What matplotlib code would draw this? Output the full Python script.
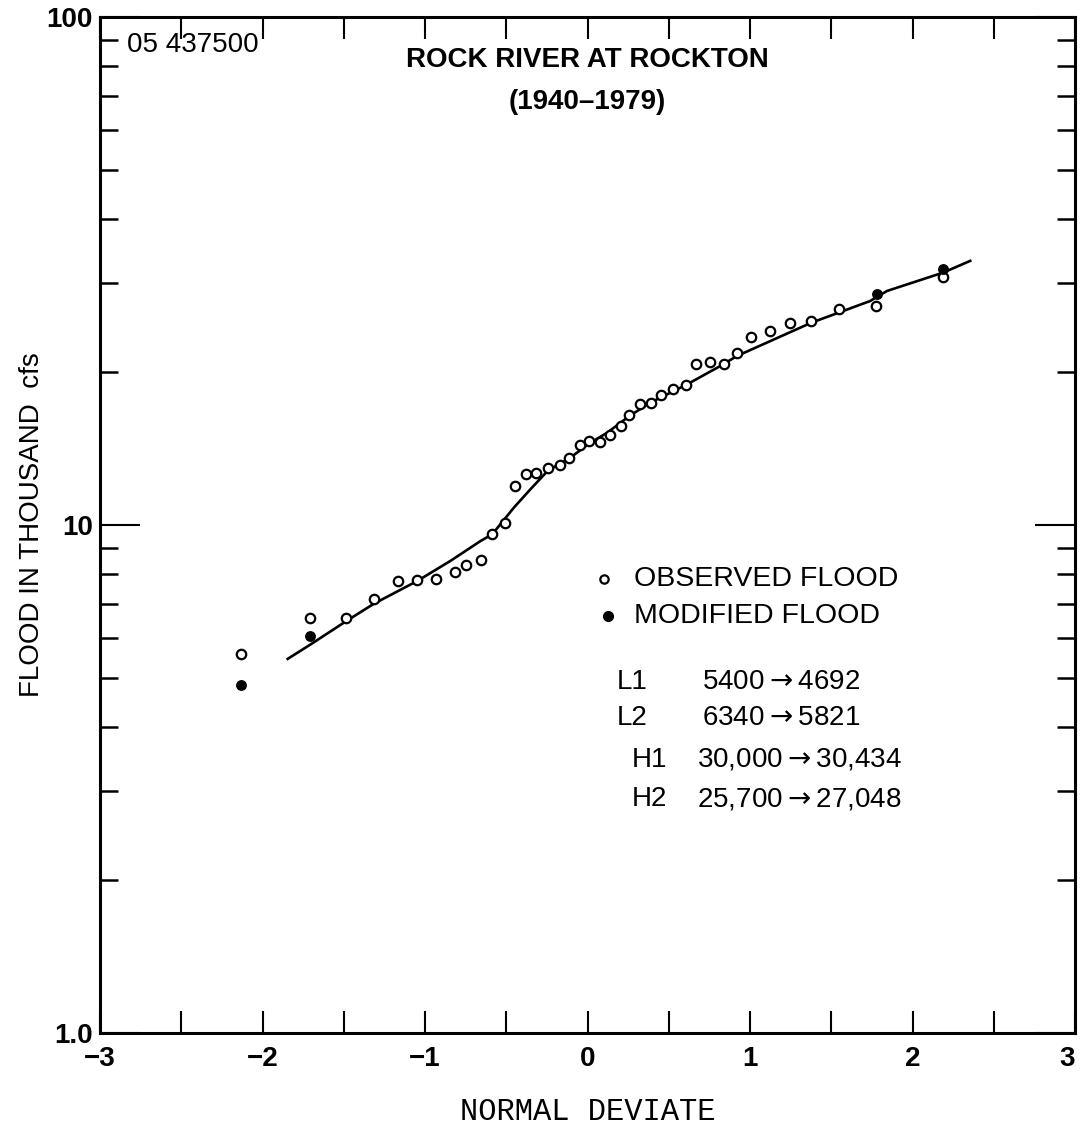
import numpy as np
import matplotlib.pyplot as plt
from matplotlib.ticker import FixedLocator, FixedFormatter, NullFormatter

# Observed annual floods (thousand cfs) against normal deviate
obs_z = [-2.13, -1.71, -1.484, -1.314, -1.167, -1.047, -0.933, -0.818,
         -0.746, -0.658, -0.586, -0.51, -0.447, -0.381, -0.314, -0.242,
         -0.170, -0.111, -0.047, 0.012, 0.076, 0.137, 0.203, 0.258,
         0.324, 0.392, 0.453, 0.525, 0.603, 0.670, 0.756, 0.838,
         0.920, 1.009, 1.121, 1.244, 1.376, 1.545, 1.777, 2.19]
obs_q = [5.58, 6.55, 6.55, 7.14, 7.76, 7.80, 7.84, 8.09,
         8.33, 8.53, 9.59, 10.1, 11.93, 12.58, 12.67, 12.97,
         13.10, 13.57, 14.35, 14.63, 14.57, 15.04, 15.66, 16.44,
         17.28, 17.41, 18.03, 18.49, 18.84, 20.72, 20.94, 20.77,
         21.84, 23.44, 24.09, 25.0, 25.2, 26.58, 26.99, 30.8]

# Modified floods (L1, L2, H2, H1)
mod_z = [-2.13, -1.71, 1.78, 2.19]
mod_q = [4.84, 6.05, 28.5, 31.9]

# Fitted frequency curve
fit_z = [-1.845, -1.704, -1.484, -1.314, -1.047, -0.843, -0.658, -0.586,
         -0.453, -0.351, -0.242, -0.111, 0.018, 0.121, 0.258, 0.387,
         0.603, 0.818, 0.920, 1.376, 1.740, 1.843, 2.19, 2.355]
fit_q = [5.45, 5.82, 6.47, 7.0, 7.76, 8.50, 9.30, 9.59,
         10.82, 11.76, 12.81, 13.53, 14.52, 15.19, 16.39, 17.41,
         18.84, 20.56, 21.51, 25.0, 27.6, 28.88, 31.4, 33.1]

x_ticks = [-3, -2, -1, 0, 1, 2, 3]
x_labels = ['\u22123', '\u22122', '\u22121', '0', '1', '2', '3']
x_minor = [-2.5, -1.5, -0.5, 0.5, 1.5, 2.5]
y_major = [1, 10, 100]
y_labels = ['1.0', '10', '100']

notes = [('L1', '5400$\\rightarrow$4692'), ('L2', '6340$\\rightarrow$5821'),
         ('H1', '30,000$\\rightarrow$30,434'), ('H2', '25,700$\\rightarrow$27,048')]

plt.rcParams['font.family'] = ['Liberation Sans', 'DejaVu Sans']
plt.rcParams['axes.unicode_minus'] = False

fig = plt.figure(figsize=(10.8, 11.28), dpi=100)
ax = fig.add_axes([0.0926, 0.0842, 0.9028, 0.9008])

ax.plot(fit_z, fit_q, color='black', lw=1.9, zorder=2)
ax.plot(obs_z, obs_q, 'o', mfc='white', mec='black', mew=1.6, ms=6.8, zorder=3)
ax.plot(mod_z, mod_q, 'o', mfc='black', mec='black', ms=6.8, zorder=4)

ax.set_yscale('log')
ax.set_xlim(-3, 3)
ax.set_ylim(1, 100)

ax.xaxis.set_major_locator(FixedLocator(x_ticks))
ax.xaxis.set_major_formatter(FixedFormatter(x_labels))
ax.xaxis.set_minor_locator(FixedLocator(x_minor))
ax.yaxis.set_major_locator(FixedLocator(y_major))
ax.yaxis.set_major_formatter(FixedFormatter(y_labels))
y_minor = [m * d for d in (1, 10) for m in range(2, 10)]
ax.yaxis.set_minor_locator(FixedLocator(y_minor))
ax.yaxis.set_minor_formatter(NullFormatter())

ax.tick_params(axis='x', which='both', direction='in', top=True, length=16,
               width=1.5, labelsize=20, pad=9)
ax.tick_params(axis='y', which='major', direction='in', right=True, length=29,
               width=1.5, labelsize=20, pad=5)
ax.tick_params(axis='y', which='minor', direction='in', right=True, length=13,
               width=1.8)
for lab in ax.get_xticklabels() + ax.get_yticklabels():
    lab.set_fontweight('bold')
# keep the last x label inside the figure
ax.get_xticklabels()[-1].set_horizontalalignment('right')
for sp in ax.spines.values():
    sp.set_linewidth(2.2)

ax.set_ylabel('FLOOD IN THOUSAND  cfs', fontsize=20, labelpad=1)
ax.set_xlabel('NORMAL DEVIATE', fontsize=22, family='Liberation Mono',
              labelpad=18)

ax.text(0.028, 0.972, '05 437500', transform=ax.transAxes, fontsize=20,
        va='center')
ax.text(0.5, 0.958, 'ROCK RIVER AT ROCKTON', transform=ax.transAxes,
        fontsize=20, fontweight='bold', ha='center', va='center')
ax.text(0.5, 0.916, '(1940\u20131979)', transform=ax.transAxes,
        fontsize=20, fontweight='bold', ha='center', va='center')

# legend
ax.plot([0.517], [0.447], 'o', mfc='white', mec='black', mew=1.6, ms=6,
        transform=ax.transAxes, clip_on=False)
ax.plot([0.521], [0.410], 'o', mfc='black', mec='black', ms=7,
        transform=ax.transAxes, clip_on=False)
ax.text(0.548, 0.447, 'OBSERVED FLOOD', transform=ax.transAxes,
        fontsize=20.5, va='center')
ax.text(0.548, 0.410, 'MODIFIED FLOOD', transform=ax.transAxes,
        fontsize=20.5, va='center')

note_y = [0.345, 0.310, 0.269, 0.230]
for (tag, val), ny in zip(notes, note_y):
    tx = 0.530 if tag.startswith('L') else 0.545
    vx = 0.617 if tag.startswith('L') else 0.612
    ax.text(tx, ny, tag, transform=ax.transAxes, fontsize=20, va='center')
    ax.text(vx, ny, val, transform=ax.transAxes, fontsize=20, va='center')

plt.savefig('out.png', dpi=100, facecolor='white')
